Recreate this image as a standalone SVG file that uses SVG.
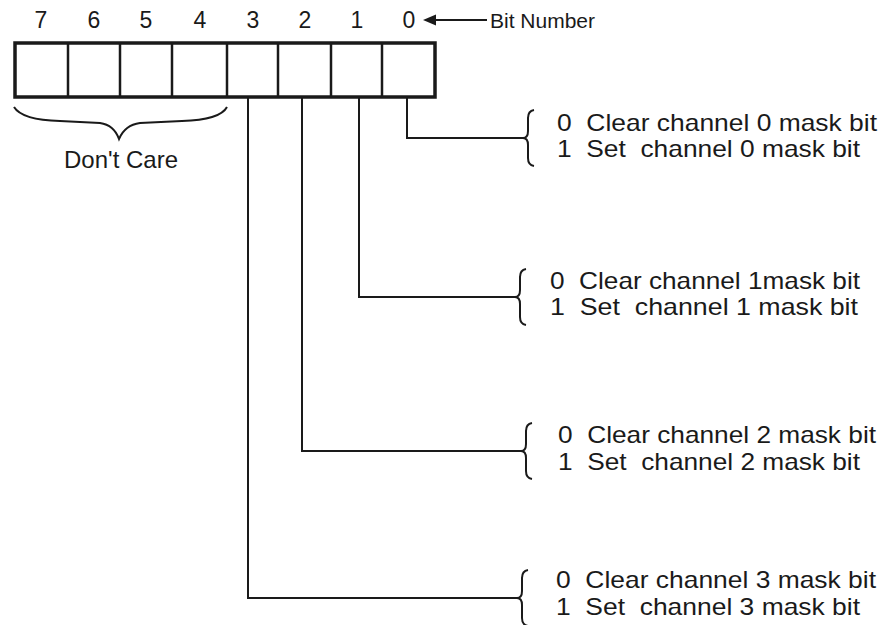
<svg xmlns="http://www.w3.org/2000/svg" width="882" height="625" viewBox="0 0 882 625">
<style>
  text { font-family: "Liberation Sans", Arial, sans-serif; fill: #1a1a1a; white-space: pre; }
  .num { font-size: 23px; text-anchor: middle; }
  .desc { font-size: 24px; }
  .lbl { font-size: 21px; }
  .lead { fill: none; stroke: #1a1a1a; stroke-width: 2; }
  .brace { fill: none; stroke: #1a1a1a; stroke-width: 2; }
</style>
<defs>
  <path id="vbrace" d="M 11,-28 Q 5,-27 5,-20 L 5,-7 Q 5,0 0,0 Q 5,0 5,7 L 5,20 Q 5,27 11,28" class="brace"/>
</defs>
<rect width="882" height="625" fill="#ffffff"/>

<g id="register">
  <rect x="15" y="43" width="420" height="54" fill="#ffffff" stroke="#1a1a1a" stroke-width="3.5"/>
  <g stroke="#1a1a1a" stroke-width="2.5">
    <line x1="68" y1="43" x2="68" y2="97"/>
    <line x1="120" y1="43" x2="120" y2="97"/>
    <line x1="172" y1="43" x2="172" y2="97"/>
    <line x1="227" y1="43" x2="227" y2="97"/>
    <line x1="278" y1="43" x2="278" y2="97"/>
    <line x1="331" y1="43" x2="331" y2="97"/>
    <line x1="382" y1="43" x2="382" y2="97"/>
  </g>
  <text class="num" x="41" y="28">7</text>
  <text class="num" x="94" y="28">6</text>
  <text class="num" x="146" y="28">5</text>
  <text class="num" x="200" y="28">4</text>
  <text class="num" x="253" y="28">3</text>
  <text class="num" x="305" y="28">2</text>
  <text class="num" x="357" y="28">1</text>
  <text class="num" x="409" y="28">0</text>
</g>

<g id="bitnumber">
  <line x1="434" y1="20" x2="487" y2="20" stroke="#1a1a1a" stroke-width="2"/>
  <polygon points="423,20 436,14.5 436,25.5" fill="#1a1a1a"/>
  <text class="lbl" x="490" y="28">Bit Number</text>
</g>

<g id="dontcare">
  <path class="brace" d="M 14,107 Q 22,120 60,121 L 100,123 Q 114,125 119,139 Q 125,125 140,123 L 182,121 Q 220,120 227,107"/>
  <text class="desc" x="121" y="168" text-anchor="middle">Don't Care</text>
</g>

<g id="connectors">
  <path class="lead" d="M 407,97 L 407,138 L 523,138"/>
  <path class="lead" d="M 359,97 L 359,297 L 515,297"/>
  <path class="lead" d="M 302,97 L 302,451 L 521,451"/>
  <path class="lead" d="M 248,97 L 248,598 L 517,598"/>
</g>

<g id="bit0">
  <use href="#vbrace" x="523" y="138"/>
  <text class="desc" x="557" y="131" textLength="320" lengthAdjust="spacingAndGlyphs">0  Clear channel 0 mask bit</text>
  <text class="desc" x="557" y="157" textLength="303" lengthAdjust="spacingAndGlyphs">1  Set  channel 0 mask bit</text>
</g>
<g id="bit1">
  <use href="#vbrace" x="515" y="297"/>
  <text class="desc" x="550" y="289" textLength="310" lengthAdjust="spacingAndGlyphs">0  Clear channel 1mask bit</text>
  <text class="desc" x="550" y="315" textLength="308" lengthAdjust="spacingAndGlyphs">1  Set  channel 1 mask bit</text>
</g>
<g id="bit2">
  <use href="#vbrace" x="521" y="451"/>
  <text class="desc" x="558" y="443" textLength="318" lengthAdjust="spacingAndGlyphs">0  Clear channel 2 mask bit</text>
  <text class="desc" x="558" y="470" textLength="302" lengthAdjust="spacingAndGlyphs">1  Set  channel 2 mask bit</text>
</g>
<g id="bit3">
  <use href="#vbrace" x="517" y="598"/>
  <text class="desc" x="556" y="588" textLength="320" lengthAdjust="spacingAndGlyphs">0  Clear channel 3 mask bit</text>
  <text class="desc" x="556" y="615" textLength="304" lengthAdjust="spacingAndGlyphs">1  Set  channel 3 mask bit</text>
</g>
</svg>
